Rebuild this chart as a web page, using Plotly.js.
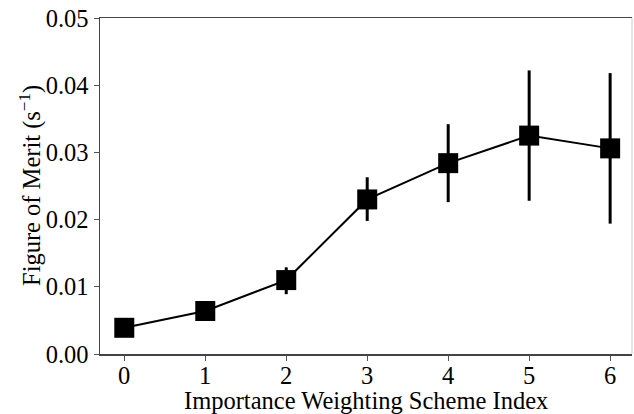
<!DOCTYPE html>
<html>
<head>
<meta charset="utf-8">
<script src="https://cdn.plot.ly/plotly-3.0.1.min.js"></script>
<style>html,body{margin:0;padding:0;background:#fff;}#chart{width:634px;height:414px;}</style>
</head>
<body>
<div id="chart"></div>
<script>
const schemeIndex = [0, 1, 2, 3, 4, 5, 6];
const figureOfMerit = [0.0039, 0.0064, 0.0110, 0.0230, 0.0284, 0.0325, 0.0306];
const errorPlus = [0.0003, 0.0004, 0.0019, 0.0033, 0.0058, 0.0097, 0.0112];
const errorMinus = [0.0003, 0.0004, 0.0021, 0.0032, 0.0058, 0.0097, 0.0112];
const xTickVals = [0, 1, 2, 3, 4, 5, 6];
const xTickText = ["0", "1", "2", "3", "4", "5", "6"];
const yTickVals = [0, 0.01, 0.02, 0.03, 0.04, 0.05];
const yTickText = ["0.00", "0.01", "0.02", "0.03", "0.04", "0.05"];
const xTitle = "Importance Weighting Scheme Index";
const yTitle = "Figure of Merit (s<sup>\u22121</sup>)";

const font = "Liberation Serif";
const fs = 24.5;

const trace = {
  x: schemeIndex,
  y: figureOfMerit,
  type: "scatter",
  mode: "lines+markers",
  line: {color: "#000", width: 2},
  marker: {symbol: "square", size: 20, color: "#000"},
  error_y: {
    type: "data", symmetric: false,
    array: errorPlus, arrayminus: errorMinus,
    color: "#000", thickness: 3, width: 0
  },
  showlegend: false
};

const xLabelAnnotations = xTickVals.map((v, i) => ({
  text: xTickText[i], xref: "x", yref: "paper", x: v, y: 0,
  xanchor: "center", yanchor: "middle", yshift: -21, showarrow: false,
  font: {family: font, size: fs, color: "#000"}
}));

const layout = {
  width: 634, height: 414,
  margin: {l: 100, r: 2, t: 18, b: 60},
  paper_bgcolor: "#fff", plot_bgcolor: "#fff",
  font: {family: font, size: fs, color: "#000"},
  xaxis: {
    range: [-0.3, 6.27],
    tickvals: xTickVals,
    showticklabels: false,
    ticks: "outside", ticklen: 5, tickwidth: 1, tickcolor: "#555",
    showline: true, linecolor: "#444", linewidth: 1.5, mirror: true,
    showgrid: false, zeroline: false
  },
  yaxis: {
    range: [0, 0.05],
    tickvals: yTickVals, ticktext: yTickText,
    ticks: "outside", ticklen: 5, tickwidth: 1, tickcolor: "#555",
    showline: true, linecolor: "#444", linewidth: 1.5,
    showgrid: false, zeroline: false,
    tickfont: {family: font, size: fs, color: "#000"}
  },
  annotations: xLabelAnnotations.concat([
    {text: xTitle, xref: "paper", yref: "paper", x: 0.5, y: 0,
     xanchor: "center", yanchor: "middle", yshift: -46, showarrow: false,
     font: {family: font, size: fs, color: "#000"}},
    {text: yTitle, xref: "paper", yref: "paper", x: 0, y: 0.5,
     xanchor: "center", yanchor: "middle", xshift: -70, textangle: -90, showarrow: false,
     font: {family: font, size: fs, color: "#000"}}
  ]),
  shapes: [{
    type: "line", xref: "paper", yref: "paper",
    x0: 1, x1: 1, y0: 0, y1: 1,
    line: {color: "#ccc", width: 1}
  }]
};

Plotly.newPlot("chart", [trace], layout, {displayModeBar: false, staticPlot: true});
</script>
</body>
</html>
